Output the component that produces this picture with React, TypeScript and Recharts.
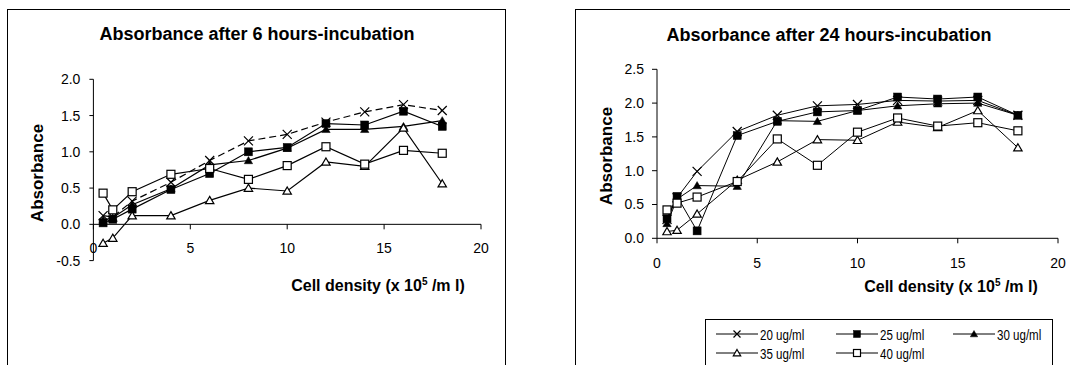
import React from 'react';
import { LineChart, Line, XAxis, YAxis, ReferenceLine, Legend } from 'recharts';

// cell density (x 10^5 /ml)
const density = [0.5, 1, 2, 4, 6, 8, 10, 12, 14, 16, 18];
const seriesNames = ['20 ug/ml', '25 ug/ml', '30 ug/ml', '35 ug/ml', '40 ug/ml'];
const seriesKeys = ['s20', 's25', 's30', 's35', 's40'];

// absorbance after 6 hours
const h6_20 = [0.12, 0.1, 0.32, 0.58, 0.88, 1.15, 1.24, 1.41, 1.55, 1.65, 1.57];
const h6_25 = [0.02, 0.07, 0.21, 0.48, 0.7, 1.0, 1.06, 1.39, 1.37, 1.56, 1.35];
const h6_30 = [0.06, 0.09, 0.27, 0.49, 0.82, 0.88, 1.05, 1.31, 1.31, 1.35, 1.43];
const h6_35 = [-0.26, -0.19, 0.12, 0.12, 0.33, 0.5, 0.46, 0.86, 0.8, 1.33, 0.56];
const h6_40 = [0.43, 0.2, 0.45, 0.69, 0.77, 0.62, 0.81, 1.07, 0.83, 1.02, 0.98];

// absorbance after 24 hours
const h24_20 = [0.28, 0.6, 0.99, 1.58, 1.82, 1.96, 1.98, 2.04, 2.03, 2.04, 1.82];
const h24_25 = [0.29, 0.62, 0.11, 1.52, 1.73, 1.87, 1.89, 2.09, 2.06, 2.09, 1.82];
const h24_30 = [0.22, 0.58, 0.78, 0.77, 1.74, 1.73, 1.89, 1.96, 1.99, 2.0, 1.82];
const h24_35 = [0.1, 0.12, 0.36, 0.86, 1.13, 1.46, 1.45, 1.72, 1.64, 1.89, 1.34];
const h24_40 = [0.42, 0.52, 0.61, 0.84, 1.47, 1.08, 1.57, 1.78, 1.66, 1.71, 1.59];

const xTicks = [0, 5, 10, 15, 20];
const y6Ticks = [-0.5, 0, 0.5, 1.0, 1.5, 2.0];
const y24Ticks = [0, 0.5, 1.0, 1.5, 2.0, 2.5];

const shapes = ['x', 'sqFill', 'triFill', 'triOpen', 'sqOpen'];

const toRows = (cols: number[][]) =>
  density.map((d, i) => {
    const row: any = { x: d };
    seriesKeys.forEach((k, j) => (row[k] = cols[j][i]));
    return row;
  });

const data6 = toRows([h6_20, h6_25, h6_30, h6_35, h6_40]);
const data24 = toRows([h24_20, h24_25, h24_30, h24_35, h24_40]);

const FONT = '"Liberation Sans", Arial, sans-serif';

function Marker({ cx, cy, shape, size }: { cx: number; cy: number; shape: string; size: number }) {
  const h = size / 2;
  if (shape === 'x') {
    return (
      <path
        d={`M${cx - h},${cy - h}L${cx + h},${cy + h}M${cx - h},${cy + h}L${cx + h},${cy - h}`}
        stroke="#000"
        strokeWidth={1.2}
        fill="none"
      />
    );
  }
  if (shape === 'sqFill' || shape === 'sqOpen') {
    const open = shape === 'sqOpen';
    return (
      <rect
        x={cx - h}
        y={cy - h}
        width={size}
        height={size}
        fill={open ? '#fff' : '#000'}
        stroke="#000"
        strokeWidth={open ? 1.2 : 0.5}
      />
    );
  }
  const open = shape === 'triOpen';
  return (
    <path
      d={`M${cx},${cy - h}L${cx + h * 1.05},${cy + h * 0.8}L${cx - h * 1.05},${cy + h * 0.8}Z`}
      fill={open ? '#fff' : '#000'}
      stroke="#000"
      strokeWidth={open ? 1.2 : 0.5}
    />
  );
}

const dotFor = (shape: string, size: number) => (p: any) =>
  <Marker key={`${shape}-${p.index}`} cx={p.cx} cy={p.cy} shape={shape} size={size} />;

// left chart x-axis sits at y = 0, not at the bottom of the plot
const LEFT_PLOT_H = 181.3;
const ZERO_SHIFT = LEFT_PLOT_H * (0.5 / 2.5);

const ShiftedXTick = (props: any) => {
  const { x, y, payload } = props;
  const y0 = y - ZERO_SHIFT;
  return (
    <g>
      <line x1={x} y1={y0} x2={x} y2={y0 + 5} stroke="#000" strokeWidth={1} />
      <text x={x} y={y0 + 19} dy="0.71em" textAnchor="middle" fontSize={14} fontFamily={FONT} fill="#000">
        {payload.value}
      </text>
    </g>
  );
};

const legendCols = [10, 130, 247];
const legendRows = [14, 33];
const LEGEND_H = 60;

const renderLegend = (props: any) => {
  const payload = props.payload || [];
  const names = payload.length ? payload.map((p: any) => p.value) : seriesNames;
  return (
    <div
      style={{
        position: 'relative',
        width: 348,
        height: LEGEND_H,
        border: '1px solid #000',
        background: '#fff',
        boxSizing: 'border-box',
      }}
    >
      {names.map((name: string, i: number) => (
        <div
          key={name}
          style={{
            position: 'absolute',
            left: legendCols[i % 3],
            top: legendRows[Math.floor(i / 3)] - 9,
            height: 18,
            display: 'flex',
            alignItems: 'center',
            whiteSpace: 'nowrap',
          }}
        >
          <svg width={43} height={18}>
            <line x1={0} y1={9} x2={42} y2={9} stroke="#000" strokeWidth={1} />
            <Marker cx={21} cy={9} shape={shapes[i]} size={7} />
          </svg>
          <span
            style={{
              fontFamily: FONT,
              fontSize: 15,
              color: '#000',
              marginLeft: 1,
              display: 'inline-block',
              transform: 'scaleX(0.77)',
              transformOrigin: 'left center',
            }}
          >
            {name}
          </span>
        </div>
      ))}
    </div>
  );
};

const textBold = { fontFamily: FONT, fontWeight: 700, color: '#000', whiteSpace: 'nowrap' as const };

function CenteredText({ cx, cy, size, rotate, children }: any) {
  return (
    <div
      style={{
        ...textBold,
        position: 'absolute',
        left: cx - 250,
        top: cy - 12,
        width: 500,
        height: 24,
        lineHeight: '24px',
        textAlign: 'center',
        fontSize: size,
        transform: rotate ? 'rotate(-90deg)' : undefined,
      }}
    >
      {children}
    </div>
  );
}

const DensityLabel = () => (
  <span>
    Cell density (x 10
    <span style={{ fontSize: 10, position: 'relative', top: -6 }}>5</span> /m l)
  </span>
);

export default function App() {
  const tickStyle = { fontSize: 14, fontFamily: FONT, fill: '#000' };
  return (
    <div
      style={{
        position: 'absolute',
        left: 0,
        top: 0,
        width: 1070,
        height: 365,
        overflow: 'hidden',
        background: '#fff',
      }}
    >
      <div style={{ position: 'absolute', left: 7, top: 9, width: 497, height: 400, border: '1px solid #000' }} />
      <div style={{ position: 'absolute', left: 575, top: 9, width: 520, height: 400, border: '1px solid #000' }} />

      <CenteredText cx={257} cy={34} size={18}>Absorbance after 6 hours-incubation</CenteredText>
      <CenteredText cx={829} cy={35} size={18}>Absorbance after 24 hours-incubation</CenteredText>
      <CenteredText cx={378} cy={286} size={16}><DensityLabel /></CenteredText>
      <CenteredText cx={951} cy={287} size={16}><DensityLabel /></CenteredText>
      <CenteredText cx={37.5} cy={173} size={17} rotate>Absorbance</CenteredText>
      <CenteredText cx={606.5} cy={156} size={17} rotate>Absorbance</CenteredText>

      <div style={{ position: 'absolute', left: 0, top: 0 }}>
        <LineChart width={520} height={365} data={data6} margin={{ top: 79.3, right: 39, bottom: 74.4, left: 43.4 }}>
          <XAxis
            type="number"
            dataKey="x"
            domain={[0, 20]}
            ticks={xTicks}
            axisLine={false}
            tickSize={0}
            tickMargin={0}
            height={30}
            tick={<ShiftedXTick />}
            interval={0}
          />
          <YAxis
            type="number"
            domain={[-0.5, 2]}
            ticks={y6Ticks}
            width={50}
            tickSize={4}
            tickMargin={9}
            tick={tickStyle}
            axisLine={{ stroke: '#000' }}
            tickLine={{ stroke: '#000' }}
            tickFormatter={(v: number) => v.toFixed(1)}
            interval={0}
          />
          <ReferenceLine y={0} stroke="#000" strokeWidth={1} />
          {seriesKeys.map((k, i) => (
            <Line
              key={k}
              dataKey={k}
              name={seriesNames[i]}
              type="linear"
              stroke="#000"
              strokeWidth={1.2}
              strokeDasharray={i === 0 ? '7 4' : undefined}
              dot={dotFor(shapes[i], shapes[i] === 'x' ? 9 : 8)}
              activeDot={false}
              isAnimationActive={false}
            />
          ))}
        </LineChart>
      </div>

      <div style={{ position: 'absolute', left: 535, top: 0 }}>
        <LineChart
          width={535}
          height={365}
          data={data24}
          margin={{ top: 69.3, right: 12, bottom: 96.7 - LEGEND_H, left: 72 }}
        >
          <XAxis
            type="number"
            dataKey="x"
            domain={[0, 20]}
            ticks={xTicks}
            height={30}
            tickSize={5}
            tickMargin={15}
            tick={tickStyle}
            axisLine={{ stroke: '#000' }}
            tickLine={{ stroke: '#000' }}
            interval={0}
          />
          <YAxis
            type="number"
            domain={[0, 2.5]}
            ticks={y24Ticks}
            width={50}
            tickSize={5}
            tickMargin={8}
            tick={tickStyle}
            axisLine={{ stroke: '#000' }}
            tickLine={{ stroke: '#000' }}
            tickFormatter={(v: number) => v.toFixed(1)}
            interval={0}
          />
          {seriesKeys.map((k, i) => (
            <Line
              key={k}
              dataKey={k}
              name={seriesNames[i]}
              type="linear"
              stroke="#000"
              strokeWidth={1}
              dot={dotFor(shapes[i], shapes[i] === 'x' ? 9 : 8)}
              activeDot={false}
              isAnimationActive={false}
            />
          ))}
          <Legend
            content={renderLegend}
            height={LEGEND_H}
            wrapperStyle={{ position: 'absolute', left: 170, top: 319, width: 348, bottom: 'auto' }}
          />
        </LineChart>
      </div>
    </div>
  );
}
